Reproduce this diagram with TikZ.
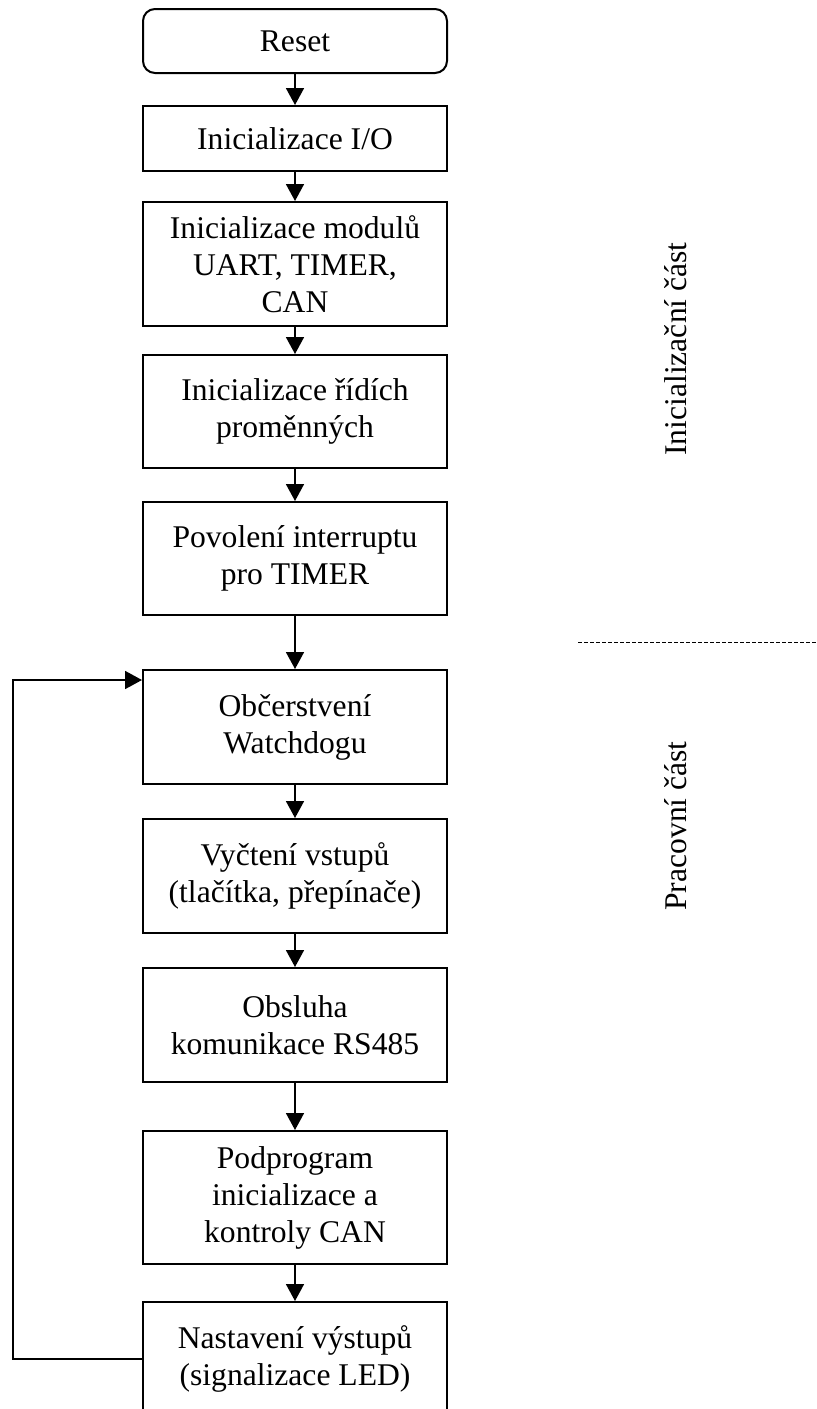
\documentclass[tikz,border=0pt]{standalone}
\usepackage{fontspec}
\setmainfont{Liberation Serif}
\usetikzlibrary{arrows.meta}
\tikzset{%
  procnode/.style  = {shape=rectangle, draw, line width=1pt, align=center,%
                      minimum width=152pt, inner sep=0pt},%
  startnode/.style = {procnode, rounded corners=6pt},%
  sidelabel/.style = {rotate=90},%
  flow/.style      = {-{Triangle[width=9pt,length=8.5pt]}, line width=0.9pt},%
  divider/.style   = {line width=0.4pt, dash pattern=on 2pt off 1pt}%
}

\begin{document}
\begin{tikzpicture}
  [x=0.5pt, y=-0.5pt, every node/.style={font=\fontsize{15.8}{18.5}\selectfont}]
  \useasboundingbox (0,0) rectangle (816,1409);
  % -------------- inicializacni cast --------------------------------------
  \node[startnode, minimum height=32pt] (reset) at (295,41) {Reset};
  \node[procnode, minimum height=32.5pt] (io) at (295,138.5) {Inicializace I/O};
  \node[procnode, minimum height=62pt] (moduly) at (295,264)
    {Inicializace modulů\\UART, TIMER,\\CAN};
  \node[procnode, minimum height=56.5pt] (promenne) at (295,411.5)
    {Inicializace řídích\\proměnných};
  \node[procnode, minimum height=56.5pt] (povoleni) at (295,558.5)
    {Povolení interruptu\\pro TIMER};
  % -------------- pracovni cast -------------------------------------------
  \node[procnode, minimum height=57pt] (obcerstveni) at (295,727)
    {Občerstvení\\Watchdogu};
  \node[procnode, minimum height=57pt] (vstupy) at (295,876)
    {Vyčtení vstupů\\(tlačítka, přepínače)};
  \node[procnode, minimum height=57pt] (rs485) at (295,1025)
    {Obsluha\\komunikace RS485};
  \node[procnode, minimum height=66.5pt] (can) at (295,1197.5)
    {Podprogram\\inicializace a\\kontroly CAN};
  \node[procnode, minimum height=57pt] (vystupy) at (295,1359)
    {Nastavení výstupů\\(signalizace LED)};
  % -------------- popisky --------------------------------------------------
  \node[sidelabel] (lblinit) at (676,349) {Inicializační část};
  \node[sidelabel] (lblprac) at (676,826) {Pracovní část};
  \coordinate (delA) at (578,642);
  \coordinate (delB) at (816,642);
  \draw[divider] (delA) -- (delB);
  % -------------- sipky ----------------------------------------------------
  \draw[flow] (reset) -- (io);
  \draw[flow] (io) -- (moduly);
  \draw[flow] (moduly) -- (promenne);
  \draw[flow] (promenne) -- (povoleni);
  \draw[flow] (povoleni) -- (obcerstveni);
  \draw[flow] (obcerstveni) -- (vstupy);
  \draw[flow] (vstupy) -- (rs485);
  \draw[flow] (rs485) -- (can);
  \draw[flow] (can) -- (vystupy);
  \coordinate (smycka) at (13,680);
  \draw[flow] (vystupy.west) -| (smycka) -- (smycka -| obcerstveni.west);
\end{tikzpicture}
\end{document}
